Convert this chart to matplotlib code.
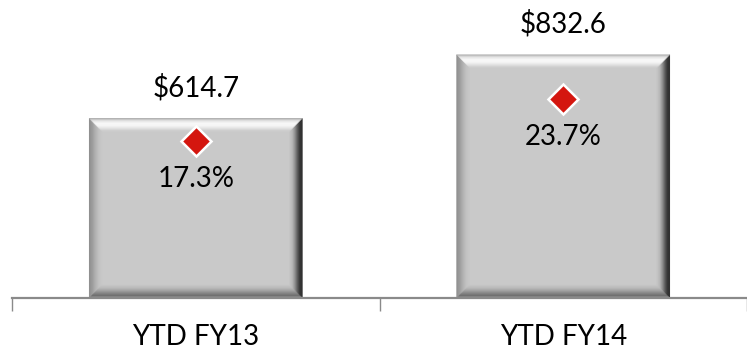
import matplotlib
matplotlib.use("Agg")
import matplotlib.pyplot as plt
from matplotlib.patches import Polygon
from matplotlib.colors import LinearSegmentedColormap

# Data
categories = ["YTD FY13", "YTD FY14"]
revenue = [614.7, 832.6]          # $ millions, bar heights
margin_pct = [17.3, 23.7]         # % values, diamond markers

FONT = ["Lato", "DejaVu Sans"]
plt.rcParams["font.family"] = FONT

W, H, DPI = 747, 351, 100
fig = plt.figure(figsize=(W / DPI, H / DPI), dpi=DPI)
ax = fig.add_axes([12 / W, 1 - 298 / H, 1 - 12 / W, 298 / H])

x = [0.5 + i for i in range(len(categories))]
ax.set_xlim(0, len(categories))
ax.set_ylim(0, 1020)

bars = ax.bar(x, revenue, width=0.58, color="#c9c9c9", edgecolor="none", zorder=2)


def bevel(ax, rect, width_px=13, steps=26):
    """Paint a bevelled frame inside a bar rectangle."""
    x0, y0 = rect.get_x(), rect.get_y()
    x1, y1 = x0 + rect.get_width(), y0 + rect.get_height()
    (px0, py0), (px1, py1) = ax.transData.transform([(x0, y0), (x1, y1)])
    dx = width_px * (x1 - x0) / (px1 - px0)
    dy = width_px * (y1 - y0) / (py1 - py0)

    ramps = {
        "top": ["#a9a9a9", "#e4e4e4", "#fafafa", "#f6f6f6", "#e2e2e2", "#cacaca"],
        "left": ["#8c8c8c", "#9c9c9c", "#b2b2b2", "#c2c2c2", "#c8c8c8"],
        "right": ["#2c2c2c", "#333333", "#5e5e5e", "#929292", "#b8b8b8", "#c6c6c6"],
        "bottom": ["#b4b4b4", "#6c6c6c", "#858585", "#a2a2a2", "#bababa", "#c6c6c6"],
    }
    cmaps = {k: LinearSegmentedColormap.from_list(k, v) for k, v in ramps.items()}

    for i in range(steps):
        a, b = i / steps, (i + 1) / steps
        t = (i + 0.5) / steps
        polys = {
            "top": [(x0 + a * dx, y1 - a * dy), (x1 - a * dx, y1 - a * dy),
                    (x1 - b * dx, y1 - b * dy), (x0 + b * dx, y1 - b * dy)],
            "bottom": [(x0 + a * dx, y0 + a * dy), (x1 - a * dx, y0 + a * dy),
                       (x1 - b * dx, y0 + b * dy), (x0 + b * dx, y0 + b * dy)],
            "left": [(x0 + a * dx, y0 + a * dy), (x0 + a * dx, y1 - a * dy),
                     (x0 + b * dx, y1 - b * dy), (x0 + b * dx, y0 + b * dy)],
            "right": [(x1 - a * dx, y0 + a * dy), (x1 - a * dx, y1 - a * dy),
                      (x1 - b * dx, y1 - b * dy), (x1 - b * dx, y0 + b * dy)],
        }
        for side in ("left", "right", "bottom", "top"):
            ax.add_patch(Polygon(polys[side], closed=True, facecolor=cmaps[side](t),
                                 edgecolor=cmaps[side](t), linewidth=0.3, zorder=3))


for rect, val in zip(bars, revenue):
    bevel(ax, rect)
    ax.annotate(f"${val:,.1f}", xy=(rect.get_x() + rect.get_width() / 2, val),
                xytext=(0, 31), textcoords="offset pixels", ha="center", va="center",
                fontsize=20, color="#000000", zorder=5)

# Axis styling
for s in ("left", "top", "right"):
    ax.spines[s].set_visible(False)
ax.spines["bottom"].set_color("#8a8a8a")
ax.spines["bottom"].set_linewidth(1.6)
ax.spines["bottom"].set_zorder(4)
ax.set_yticks([])
ax.set_xticks(range(len(categories) + 1), [""] * (len(categories) + 1))
ax.set_xticks(x, categories, minor=True)
ax.tick_params(axis="x", which="major", length=9, width=1.0, color="#8a8a8a", direction="out")
ax.tick_params(axis="x", which="minor", length=0, pad=19, labelsize=20, labelcolor="#000000")

# Secondary axis with the percentage markers
ax2 = ax.twinx()
ax2.set_ylim(-7.0, 39.0)
ax2.set_axis_off()
ax2.plot(x, margin_pct, linestyle="none", marker="D", markersize=15,
         markerfacecolor="#d4160f", markeredgecolor="white", markeredgewidth=1.8, zorder=6)
for xi, p in zip(x, margin_pct):
    ax2.annotate(f"{p:.1f}%", xy=(xi, p), xytext=(0, -38), textcoords="offset pixels",
                 ha="center", va="center", fontsize=20, color="#000000", zorder=6)

fig.savefig("out.png", dpi=DPI)
